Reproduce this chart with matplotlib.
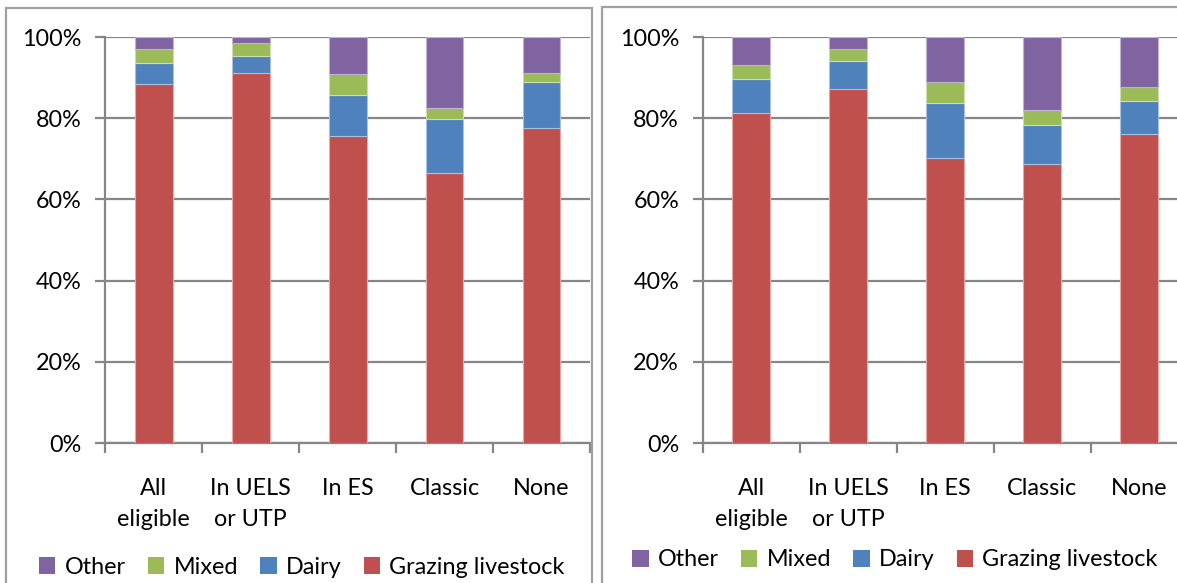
import matplotlib
matplotlib.use("Agg")
import matplotlib.pyplot as plt
from matplotlib.patches import Rectangle, Patch
import numpy as np

categories = ["All\neligible", "In UELS\nor UTP", "In ES", "Classic", "None"]
series_names = ["Grazing livestock", "Dairy", "Mixed", "Other"]

left_grazing = [88.4, 91.2, 75.5, 66.6, 77.5]
left_dairy = [5.3, 4.0, 10.3, 13.3, 11.3]
left_mixed = [3.4, 3.4, 5.0, 2.5, 2.4]
left_other = [2.9, 1.4, 9.2, 17.6, 8.8]

right_grazing = [81.4, 87.3, 70.2, 68.6, 76.0]
right_dairy = [8.3, 6.9, 13.6, 9.8, 8.3]
right_mixed = [3.5, 2.9, 5.0, 3.5, 3.5]
right_other = [6.8, 2.9, 11.2, 18.1, 12.2]

colors = {"Grazing livestock": "#C0504D", "Dairy": "#4F81BD",
          "Mixed": "#9BBB59", "Other": "#8064A2"}
edge = {"Grazing livestock": "#E6A8A6", "Dairy": "#A7C0E0",
        "Mixed": "#CDDDAC", "Other": "#BFB1D0"}

plt.rcParams['font.family'] = ['Lato', 'DejaVu Sans']
FS = 16.8
W, H = 1177, 583
fig = plt.figure(figsize=(W / 100, H / 100), dpi=100)

grid_c = "#868686"

def panel(rect, data):
    ax = fig.add_axes(rect)
    x = np.arange(len(categories))
    bottom = np.zeros(len(categories))
    for name, vals in zip(series_names, data):
        ax.bar(x, vals, width=0.39, bottom=bottom, color=colors[name],
               edgecolor=edge[name], linewidth=0.8, zorder=3)
        bottom += np.array(vals)
    ax.set_xlim(-0.5, len(categories) - 0.5)
    ax.set_ylim(0, 100)
    ax.set_yticks([0, 20, 40, 60, 80, 100])
    ax.set_yticklabels([f"{v}%" for v in [0, 20, 40, 60, 80, 100]], fontsize=FS)
    ax.yaxis.grid(True, color=grid_c, linewidth=1.6, zorder=0)
    ax.set_axisbelow(True)
    ax.set_xticks(np.arange(len(categories) + 1) - 0.5)
    ax.set_xticklabels([])
    ax.set_xticks(x, minor=True)
    ax.set_xticklabels(categories, minor=True, fontsize=FS, linespacing=1.6)
    ax.tick_params(axis='x', which='minor', length=0, pad=25)
    ax.tick_params(axis='x', which='major', length=7, width=1.6, color=grid_c, direction='out')
    ax.tick_params(axis='y', length=7, width=1.6, color=grid_c, pad=10)
    for s in ['top', 'right']:
        ax.spines[s].set_visible(False)
    for s in ['left', 'bottom']:
        ax.spines[s].set_color(grid_c)
        ax.spines[s].set_linewidth(1.6)
    return ax

ax1 = panel([105.3 / W, 1 - 443 / H, 484.7 / W, 406 / H],
            [left_grazing, left_dairy, left_mixed, left_other])
ax2 = panel([702.7 / W, 1 - 443 / H, 485 / W, 406 / H],
            [right_grazing, right_dairy, right_mixed, right_other])

# panel frames
border_c = "#A0A0A0"
fig.add_artist(Rectangle((5.7 / W, -0.05), (592 - 5.7) / W, 1.05 - 8 / H,
                         transform=fig.transFigure, fill=False,
                         edgecolor=border_c, linewidth=1.6))
fig.add_artist(Rectangle((602 / W, -0.05), 0.5, 1.05 - 7 / H,
                         transform=fig.transFigure, fill=False,
                         edgecolor=border_c, linewidth=1.6))

handles = [Patch(facecolor=colors[n], edgecolor='none') for n in series_names[::-1]]
labels = series_names[::-1]
for cx, cy in [(302 / W, 1 - 567 / H), (895 / W, 1 - 560 / H)]:
    fig.legend(handles, labels, loc='center', bbox_to_anchor=(cx, cy), ncol=4,
               frameon=False, fontsize=FS, handlelength=0.7, handleheight=0.7,
               handletextpad=0.4, columnspacing=0.95, borderaxespad=0)

fig.savefig("out.png", dpi=100)
